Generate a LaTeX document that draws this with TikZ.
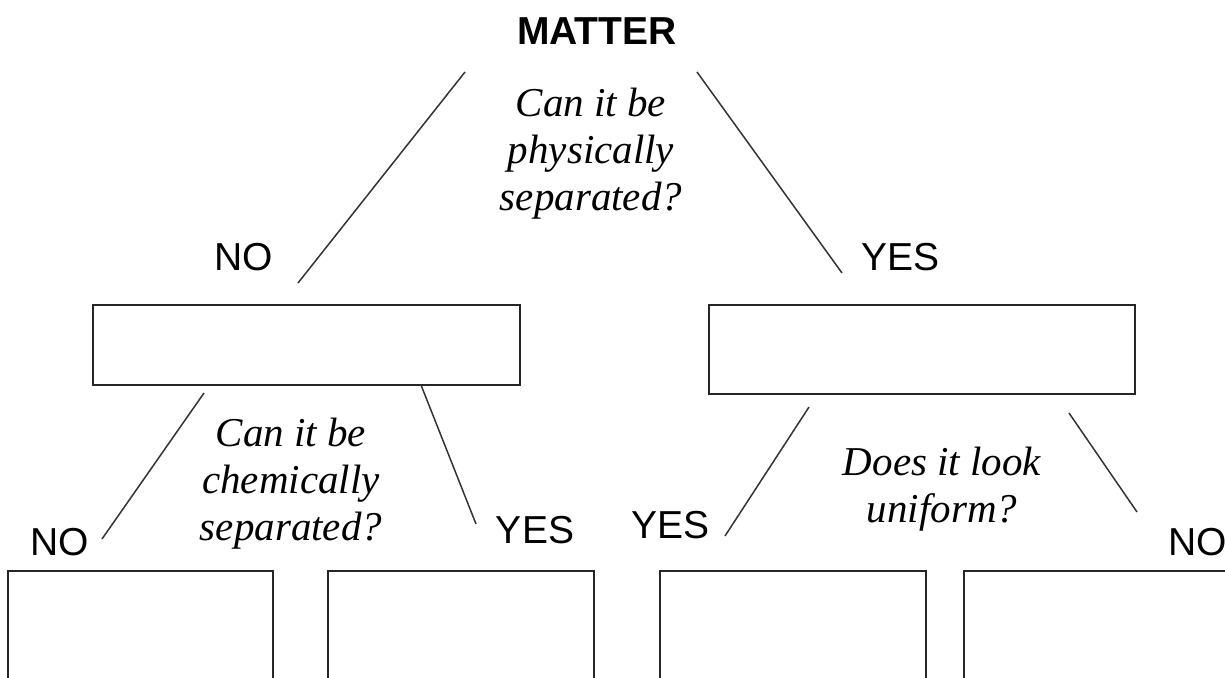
\documentclass[tikz,border=0pt]{standalone}
\usepackage{fontspec}
\setmainfont{Liberation Serif}
\setsansfont{Liberation Sans}
\usepackage{tikz}

\begin{document}
\begin{tikzpicture}[x=1pt,y=-1pt]
	\useasboundingbox (0,0) rectangle (1225,677);
	\clip (0,0) rectangle (1225,677);
	\begin{scope}[every node/.style = {font = \sffamily\fontsize{39}{44}\selectfont,
			anchor = base, inner sep = 0pt}]
		\node (matter) at (597,45) {\bfseries MATTER};
		\node (noA) at (244,270) {NO};
		\node (yesA) at (900.5,270) {YES};
		\node (noB) at (60,555) {NO};
		\node (yesB) at (535,543) {YES};
		\node (yesC) at (670.5,538) {YES};
		\node[anchor = base west] (noC) at (1168,555) {NO};
	\end{scope}
	\begin{scope}[every node/.style = {font = \itshape\fontsize{41}{47}\selectfont,
			align = center, anchor = base, inner sep = 0pt}]
		\node (physical) at (591,210) {Can it be\\physically\\separated?};
		\node (chemical) at (291,540) {Can it be\\chemically\\separated?};
		\node (uniform) at (942,522) {Does it look\\uniform?};
	\end{scope}
	\begin{scope}[every node/.style = {draw = black!85, line width = 2.2pt,
			inner sep = 0pt}]
		\node[minimum width = 427pt, minimum height = 80pt] (pure) at (306.5,345) {};
		\node[minimum width = 426pt, minimum height = 89pt] (mixture) at (922,349.5) {};
		\node[minimum width = 265pt, minimum height = 149pt] (element) at (140.5,645.5) {};
		\node[minimum width = 266pt, minimum height = 149pt] (compound) at (461,645.5) {};
		\node[minimum width = 266pt, minimum height = 149pt] (homog) at (793,645.5) {};
		\node[minimum width = 266pt, minimum height = 149pt] (heterog) at (1097,645.5) {};
	\end{scope}
	% line ends
	\coordinate (mL) at (465,72);
	\coordinate (mR) at (697,72);
	\coordinate (noA-e) at (298,283);
	\coordinate (yesA-e) at (842,273);
	\coordinate (pL) at (204,393);
	\coordinate (pR) at (421,385);
	\coordinate (noB-e) at (102,539);
	\coordinate (yesB-e) at (476,524);
	\coordinate (xL) at (809,407);
	\coordinate (xR) at (1069,413);
	\coordinate (yesC-e) at (725,536);
	\coordinate (noC-e) at (1137,512);
	\begin{scope}[every edge/.style={draw=black!80, line width=1.5pt}]
		\path (mL) edge (noA-e);
		\path (mR) edge (yesA-e);
		\path (pL) edge (noB-e);
		\path (pR) edge (yesB-e);
		\path (xL) edge (yesC-e);
		\path (xR) edge (noC-e);
	\end{scope}
\end{tikzpicture}
\end{document}
